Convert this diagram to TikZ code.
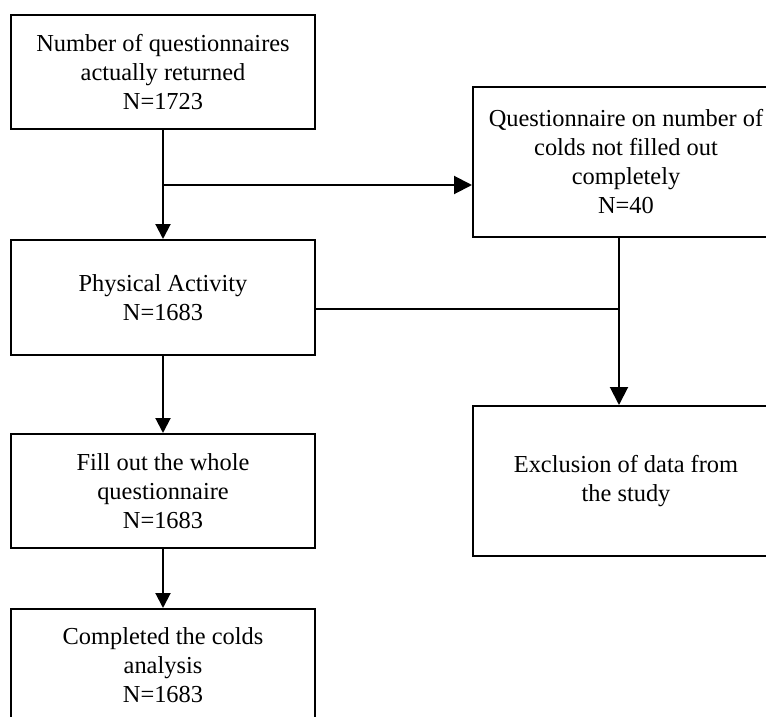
\documentclass[tikz,border=0pt]{standalone}
\usepackage{fontspec}
\setmainfont{Liberation Serif}
\usetikzlibrary{arrows.meta}

\tikzset{
  box/.style = {draw, line width=2pt, align=center, inner sep=0pt,
    font=\fontsize{24.4}{29}\selectfont},
  flow/.style = {line width=2pt, -{Triangle[width=15pt,length=15pt]}},
  bigflow/.style = {line width=2pt, -{Triangle[width=18pt,length=18pt]}},
}

\begin{document}
\begin{tikzpicture}[x=1pt, y=-1pt]
	\useasboundingbox (0,0) rectangle (766,717);
	\begin{scope}
		\node [box, minimum width=304pt, minimum height=114pt] (returned) at (163,72)
			{Number of questionnaires\\actually returned\\N=1723};
		\node [box, minimum width=304pt, minimum height=115pt] (activity) at (163,297.5)
			{Physical Activity\\N=1683};
		\node [box, minimum width=304pt, minimum height=114pt] (wholeq) at (163,491)
			{Fill out the whole\\questionnaire\\N=1683};
		\node [box, minimum width=304pt, minimum height=112pt] (colds) at (163,665)
			{Completed the colds\\analysis\\N=1683};
	\end{scope}
	\begin{scope}
		\node [box, minimum width=306pt, minimum height=150pt] (incomplete) at (626,162)
			{Questionnaire on number of\\colds not filled out\\completely\\N=40};
		\node [box, minimum width=306pt, minimum height=150pt] (excluded) at (626,481)
			{Exclusion of data from\\the study};
	\end{scope}
	\coordinate (split) at (163,185);
	\coordinate (merge) at (619,309);
	\begin{scope}
		\draw [flow] (returned.south) -- (activity.north);
		\draw [bigflow] (split) -- (split -| incomplete.west);
		\draw [line width=2pt] (activity.east |- merge) -- (merge);
		\draw [bigflow] (incomplete.south -| merge) -- (excluded.north -| merge);
		\draw [flow] (activity.south) -- (wholeq.north);
		\draw [flow] (wholeq.south) -- (colds.north);
	\end{scope}
\end{tikzpicture}
\end{document}
